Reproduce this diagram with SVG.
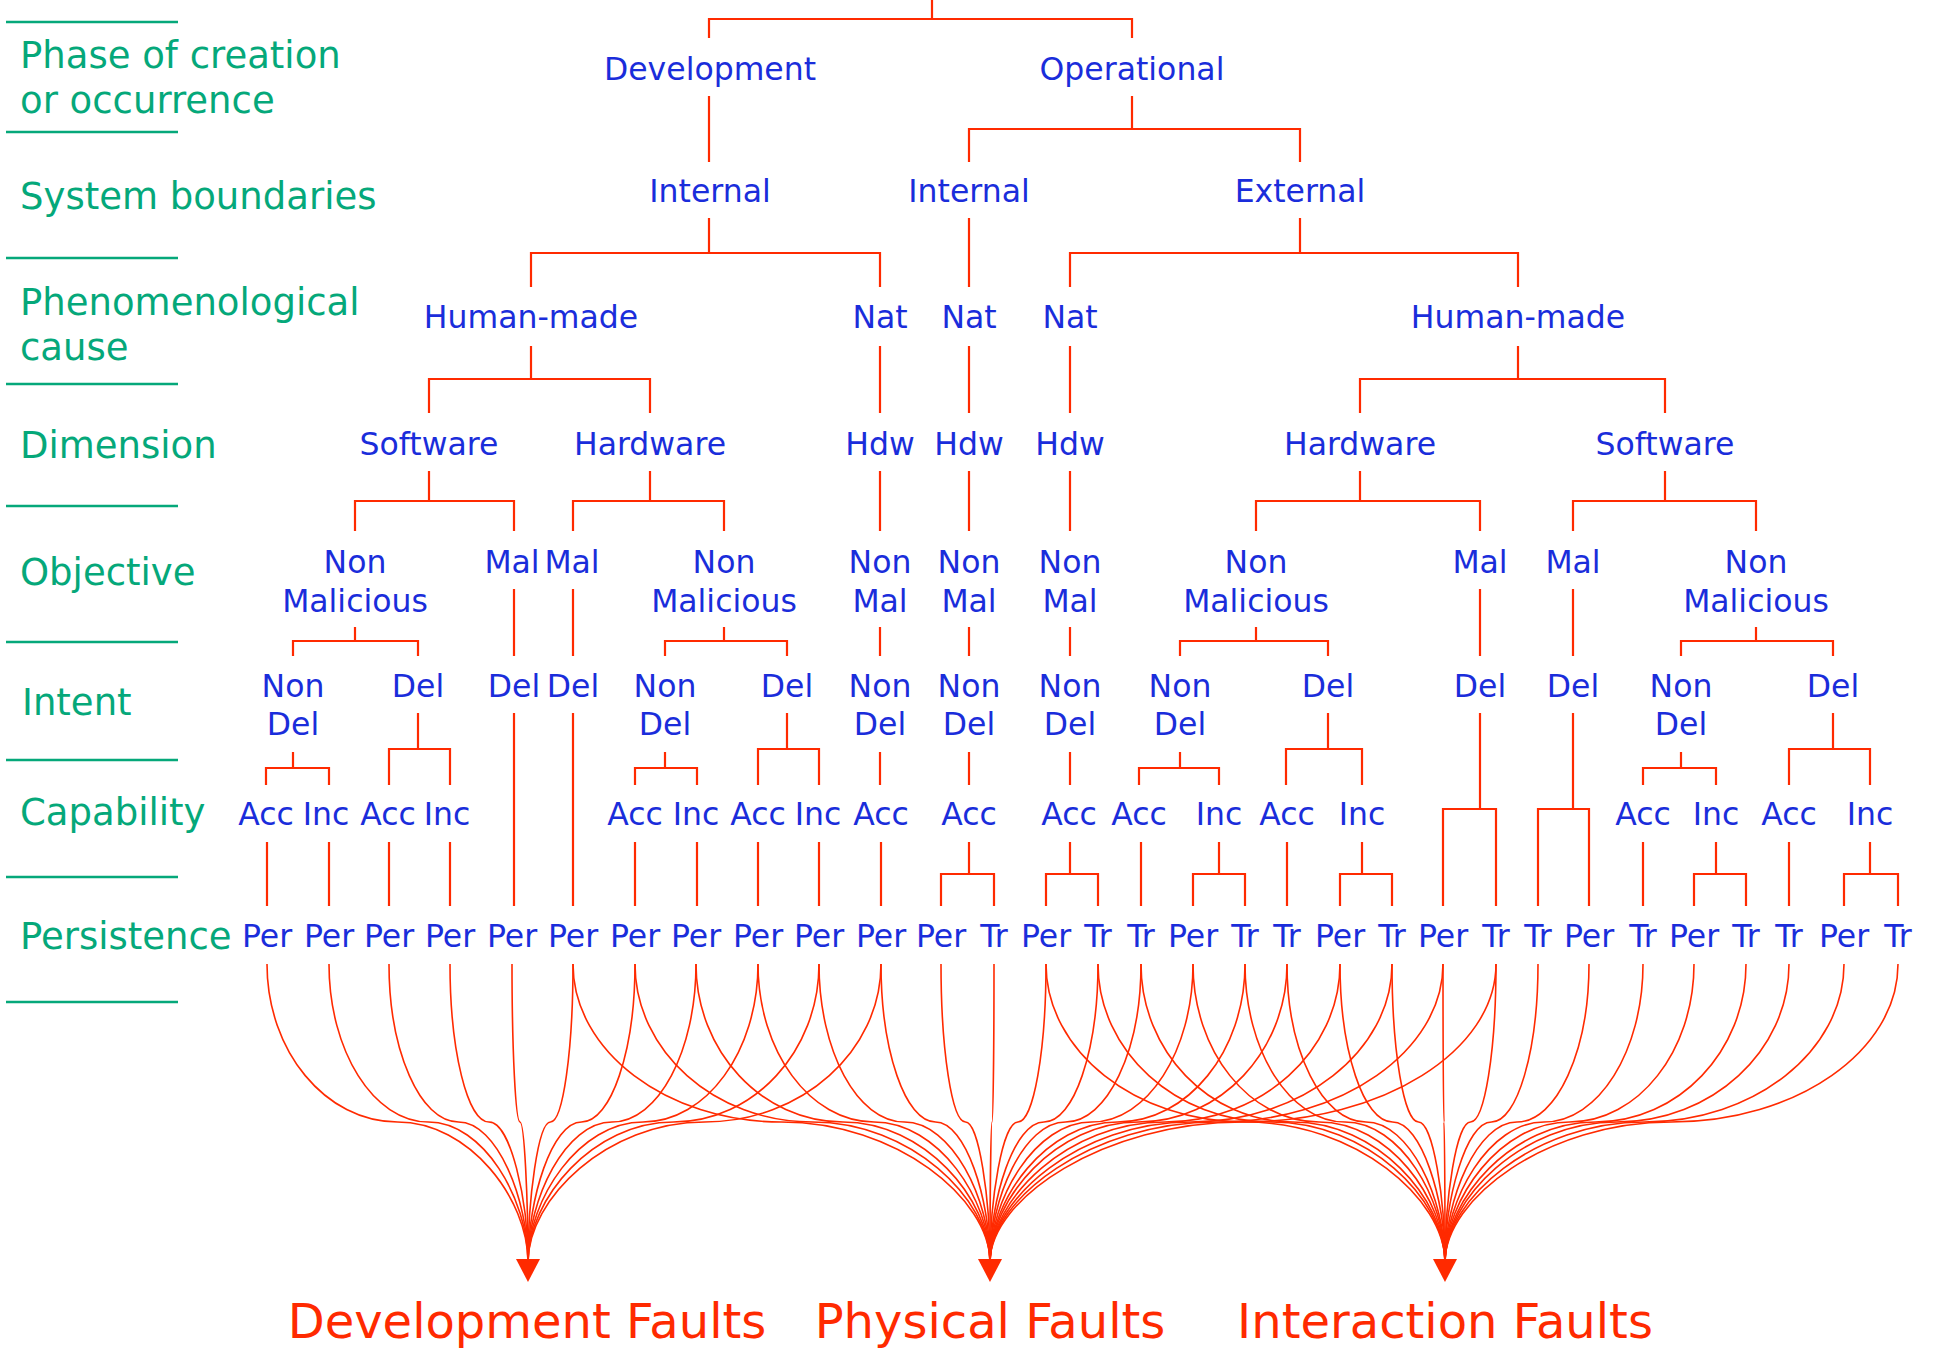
<svg xmlns="http://www.w3.org/2000/svg" xmlns:xlink="http://www.w3.org/1999/xlink" width="1933" height="1350" viewBox="0 0 1933 1350">
<style>
.lbl{font-family:"DejaVu Sans",sans-serif;font-size:37px;fill:#05a87a}
.n{font-family:"DejaVu Sans",sans-serif;font-size:31.5px;fill:#1a2ddb;text-anchor:middle}
.f{font-family:"DejaVu Sans",sans-serif;font-size:48px;fill:#ff2a00;text-anchor:middle}
.t{stroke:#ff2a00;stroke-width:2.2;fill:none}
.c{stroke:#ff2a00;stroke-width:1.6;fill:none}
.g{stroke:#05a87a;stroke-width:2.5}
</style>
<defs>
<path id="ah" d="M-12 -23 L12 -23 L0 0 Z" fill="#ff2a00"/>
</defs>
<rect width="1933" height="1350" fill="#ffffff"/>
<g id="legend">
<line class="g" x1="6" y1="22" x2="178" y2="22"/>
<line class="g" x1="6" y1="132" x2="178" y2="132"/>
<line class="g" x1="6" y1="258" x2="178" y2="258"/>
<line class="g" x1="6" y1="384" x2="178" y2="384"/>
<line class="g" x1="6" y1="506" x2="178" y2="506"/>
<line class="g" x1="6" y1="642" x2="178" y2="642"/>
<line class="g" x1="6" y1="760" x2="178" y2="760"/>
<line class="g" x1="6" y1="877" x2="178" y2="877"/>
<line class="g" x1="6" y1="1002" x2="178" y2="1002"/>
<text class="lbl" x="20" y="68">Phase of creation</text>
<text class="lbl" x="20" y="113">or occurrence</text>
<text class="lbl" x="20" y="209">System boundaries</text>
<text class="lbl" x="20" y="315">Phenomenological</text>
<text class="lbl" x="20" y="360">cause</text>
<text class="lbl" x="20" y="458">Dimension</text>
<text class="lbl" x="20" y="585">Objective</text>
<text class="lbl" x="22" y="715">Intent</text>
<text class="lbl" x="20" y="825">Capability</text>
<text class="lbl" x="20" y="949">Persistence</text>
</g>
<g id="connectors">
<path class="t" d="M932 0V19M709 38V19H1132V38"/>
<path class="t" d="M709 96V162M1132 96V129M969 162V129H1300V162"/>
<path class="t" d="M709 218V253M531 287V253H880V287M969 218V287M1300 218V253M1070 287V253H1518V287"/>
<path class="t" d="M531 346V379M429 413V379H650V413M880 346V413M969 346V413M1070 346V413M1518 346V379M1360 413V379H1665V413"/>
<path class="t" d="M429 471V501M355 531V501H514V531M650 471V501M573 531V501H724V531M880 471V531M969 471V531M1070 471V531M1360 471V501M1256 531V501H1480V531M1665 471V501M1573 531V501H1756V531"/>
<path class="t" d="M355 627V641M293 656V641H418V656M514 589V656M573 589V656M724 627V641M665 656V641H787V656M880 627V656M969 627V656M1070 627V656M1256 627V641M1180 656V641H1328V656M1480 589V656M1573 589V656M1756 627V641M1681 656V641H1833V656"/>
<path class="t" d="M293 752V768M266 785V768H329V785M418 713V749M389 785V749H450V785M514 713V906M573 713V906M665 752V768M635 785V768H697V785M787 713V749M758 785V749H819V785M880 752V785M969 752V785M1070 752V785M1180 752V768M1139 785V768H1219V785M1328 713V749M1286 785V749H1362V785M1480 713V809M1443 906V809H1496V906M1573 713V809M1538 906V809H1589V906M1681 752V768M1643 785V768H1716V785M1833 713V749M1789 785V749H1870V785"/>
<path class="t" d="M267 842V906M329 842V906M389 842V906M450 842V906M635 842V906M697 842V906M758 842V906M819 842V906M881 842V906M969 842V874M941 906V874H994V906M1070 842V874M1046 906V874H1098V906M1141 842V906M1219 842V874M1193 906V874H1245V906M1287 842V906M1362 842V874M1340 906V874H1392V906M1643 842V906M1716 842V874M1694 906V874H1746V906M1789 842V906M1870 842V874M1844 906V874H1898V906"/>
<g id="to-development">
<path class="c" d="M267 964C267 1051 325.5 1122 397.5 1122S528 1199 528 1262"/>
<path class="c" d="M329 964C329 1051 373.6 1122 428.5 1122S528 1199 528 1262"/>
<path class="c" d="M389 964C389 1051 420.1 1122 458.5 1122S528 1199 528 1262"/>
<path class="c" d="M450 964C450 1051 467.5 1122 489 1122S528 1199 528 1262"/>
<path class="c" d="M512 964C512 1051 515.6 1122 520 1122S528 1199 528 1262"/>
<path class="c" d="M573 964C573 1051 562.9 1122 550.5 1122S528 1199 528 1262"/>
<path class="c" d="M635 964C635 1051 611 1122 581.5 1122S528 1199 528 1262"/>
<path class="c" d="M696 964C696 1051 658.4 1122 612 1122S528 1199 528 1262"/>
<path class="c" d="M758 964C758 1051 706.5 1122 643 1122S528 1199 528 1262"/>
<path class="c" d="M819 964C819 1051 753.8 1122 673.5 1122S528 1199 528 1262"/>
<path class="c" d="M881 964C881 1051 801.9 1122 704.5 1122S528 1199 528 1262"/>
</g>
<g id="to-physical">
<path class="c" d="M573 964C573 1051 666.4 1122 781.5 1122S990 1199 990 1262"/>
<path class="c" d="M635 964C635 1051 714.5 1122 812.5 1122S990 1199 990 1262"/>
<path class="c" d="M696 964C696 1051 761.9 1122 843 1122S990 1199 990 1262"/>
<path class="c" d="M758 964C758 1051 810 1122 874 1122S990 1199 990 1262"/>
<path class="c" d="M819 964C819 1051 857.3 1122 904.5 1122S990 1199 990 1262"/>
<path class="c" d="M881 964C881 1051 905.4 1122 935.5 1122S990 1199 990 1262"/>
<path class="c" d="M941 964C941 1051 952 1122 965.5 1122S990 1199 990 1262"/>
<path class="c" d="M994 964C994 1051 993.1 1122 992 1122S990 1199 990 1262"/>
<path class="c" d="M1046 964C1046 1051 1033.5 1122 1018 1122S990 1199 990 1262"/>
<path class="c" d="M1098 964C1098 1051 1073.8 1122 1044 1122S990 1199 990 1262"/>
<path class="c" d="M1141 964C1141 1051 1107.2 1122 1065.5 1122S990 1199 990 1262"/>
<path class="c" d="M1193 964C1193 1051 1147.5 1122 1091.5 1122S990 1199 990 1262"/>
<path class="c" d="M1245 964C1245 1051 1187.9 1122 1117.5 1122S990 1199 990 1262"/>
<path class="c" d="M1287 964C1287 1051 1220.5 1122 1138.5 1122S990 1199 990 1262"/>
<path class="c" d="M1340 964C1340 1051 1261.6 1122 1165 1122S990 1199 990 1262"/>
<path class="c" d="M1392 964C1392 1051 1302 1122 1191 1122S990 1199 990 1262"/>
<path class="c" d="M1443 964C1443 1051 1341.5 1122 1216.5 1122S990 1199 990 1262"/>
<path class="c" d="M1496 964C1496 1051 1382.7 1122 1243 1122S990 1199 990 1262"/>
</g>
<g id="to-interaction">
<path class="c" d="M1046 964C1046 1051 1135.4 1122 1245.5 1122S1445 1199 1445 1262"/>
<path class="c" d="M1098 964C1098 1051 1175.7 1122 1271.5 1122S1445 1199 1445 1262"/>
<path class="c" d="M1141 964C1141 1051 1209.1 1122 1293 1122S1445 1199 1445 1262"/>
<path class="c" d="M1193 964C1193 1051 1249.4 1122 1319 1122S1445 1199 1445 1262"/>
<path class="c" d="M1245 964C1245 1051 1289.8 1122 1345 1122S1445 1199 1445 1262"/>
<path class="c" d="M1287 964C1287 1051 1322.4 1122 1366 1122S1445 1199 1445 1262"/>
<path class="c" d="M1340 964C1340 1051 1363.5 1122 1392.5 1122S1445 1199 1445 1262"/>
<path class="c" d="M1392 964C1392 1051 1403.9 1122 1418.5 1122S1445 1199 1445 1262"/>
<path class="c" d="M1443 964C1443 1051 1443.4 1122 1444 1122S1445 1199 1445 1262"/>
<path class="c" d="M1496 964C1496 1051 1484.6 1122 1470.5 1122S1445 1199 1445 1262"/>
<path class="c" d="M1538 964C1538 1051 1517.2 1122 1491.5 1122S1445 1199 1445 1262"/>
<path class="c" d="M1589 964C1589 1051 1556.7 1122 1517 1122S1445 1199 1445 1262"/>
<path class="c" d="M1643 964C1643 1051 1598.6 1122 1544 1122S1445 1199 1445 1262"/>
<path class="c" d="M1694 964C1694 1051 1638.2 1122 1569.5 1122S1445 1199 1445 1262"/>
<path class="c" d="M1746 964C1746 1051 1678.6 1122 1595.5 1122S1445 1199 1445 1262"/>
<path class="c" d="M1789 964C1789 1051 1711.9 1122 1617 1122S1445 1199 1445 1262"/>
<path class="c" d="M1844 964C1844 1051 1754.6 1122 1644.5 1122S1445 1199 1445 1262"/>
<path class="c" d="M1898 964C1898 1051 1796.5 1122 1671.5 1122S1445 1199 1445 1262"/>
</g>
<use xlink:href="#ah" x="528" y="1282"/>
<use xlink:href="#ah" x="990" y="1282"/>
<use xlink:href="#ah" x="1445" y="1282"/>
</g>
<g id="nodes">
<g id="n-development"><text class="n" x="710" y="80">Development</text></g>
<g id="n-operational"><text class="n" x="1132" y="80">Operational</text></g>
<g id="n-internal-dev"><text class="n" x="710" y="202">Internal</text></g>
<g id="n-internal-op"><text class="n" x="969" y="202">Internal</text></g>
<g id="n-external"><text class="n" x="1300" y="202">External</text></g>
<g id="n-hm1"><text class="n" x="531" y="328">Human-made</text></g>
<g id="n-nat1"><text class="n" x="880" y="328">Nat</text></g>
<g id="n-nat2"><text class="n" x="969" y="328">Nat</text></g>
<g id="n-nat3"><text class="n" x="1070" y="328">Nat</text></g>
<g id="n-hm2"><text class="n" x="1518" y="328">Human-made</text></g>
<g id="n-sw1"><text class="n" x="429" y="455">Software</text></g>
<g id="n-hw1"><text class="n" x="650" y="455">Hardware</text></g>
<g id="n-hdw1"><text class="n" x="880" y="455">Hdw</text></g>
<g id="n-hdw2"><text class="n" x="969" y="455">Hdw</text></g>
<g id="n-hdw3"><text class="n" x="1070" y="455">Hdw</text></g>
<g id="n-hw2"><text class="n" x="1360" y="455">Hardware</text></g>
<g id="n-sw2"><text class="n" x="1665" y="455">Software</text></g>
<g id="n-obj1"><text class="n" x="355" y="573">Non</text><text class="n" x="355" y="612">Malicious</text></g>
<g id="n-obj2"><text class="n" x="512" y="573">Mal</text></g>
<g id="n-obj3"><text class="n" x="572" y="573">Mal</text></g>
<g id="n-obj4"><text class="n" x="724" y="573">Non</text><text class="n" x="724" y="612">Malicious</text></g>
<g id="n-obj5"><text class="n" x="880" y="573">Non</text><text class="n" x="880" y="612">Mal</text></g>
<g id="n-obj6"><text class="n" x="969" y="573">Non</text><text class="n" x="969" y="612">Mal</text></g>
<g id="n-obj7"><text class="n" x="1070" y="573">Non</text><text class="n" x="1070" y="612">Mal</text></g>
<g id="n-obj8"><text class="n" x="1256" y="573">Non</text><text class="n" x="1256" y="612">Malicious</text></g>
<g id="n-obj9"><text class="n" x="1480" y="573">Mal</text></g>
<g id="n-obj10"><text class="n" x="1573" y="573">Mal</text></g>
<g id="n-obj11"><text class="n" x="1756" y="573">Non</text><text class="n" x="1756" y="612">Malicious</text></g>
<g id="n-int1"><text class="n" x="293" y="697">Non</text><text class="n" x="293" y="735">Del</text></g>
<g id="n-int2"><text class="n" x="418" y="697">Del</text></g>
<g id="n-int3"><text class="n" x="514" y="697">Del</text></g>
<g id="n-int4"><text class="n" x="573" y="697">Del</text></g>
<g id="n-int5"><text class="n" x="665" y="697">Non</text><text class="n" x="665" y="735">Del</text></g>
<g id="n-int6"><text class="n" x="787" y="697">Del</text></g>
<g id="n-int7"><text class="n" x="880" y="697">Non</text><text class="n" x="880" y="735">Del</text></g>
<g id="n-int8"><text class="n" x="969" y="697">Non</text><text class="n" x="969" y="735">Del</text></g>
<g id="n-int9"><text class="n" x="1070" y="697">Non</text><text class="n" x="1070" y="735">Del</text></g>
<g id="n-int10"><text class="n" x="1180" y="697">Non</text><text class="n" x="1180" y="735">Del</text></g>
<g id="n-int11"><text class="n" x="1328" y="697">Del</text></g>
<g id="n-int12"><text class="n" x="1480" y="697">Del</text></g>
<g id="n-int13"><text class="n" x="1573" y="697">Del</text></g>
<g id="n-int14"><text class="n" x="1681" y="697">Non</text><text class="n" x="1681" y="735">Del</text></g>
<g id="n-int15"><text class="n" x="1833" y="697">Del</text></g>
<g id="n-cap1"><text class="n" x="266" y="825">Acc</text></g>
<g id="n-cap2"><text class="n" x="326" y="825">Inc</text></g>
<g id="n-cap3"><text class="n" x="388" y="825">Acc</text></g>
<g id="n-cap4"><text class="n" x="447" y="825">Inc</text></g>
<g id="n-cap5"><text class="n" x="635" y="825">Acc</text></g>
<g id="n-cap6"><text class="n" x="696" y="825">Inc</text></g>
<g id="n-cap7"><text class="n" x="758" y="825">Acc</text></g>
<g id="n-cap8"><text class="n" x="818" y="825">Inc</text></g>
<g id="n-cap9"><text class="n" x="881" y="825">Acc</text></g>
<g id="n-cap10"><text class="n" x="969" y="825">Acc</text></g>
<g id="n-cap11"><text class="n" x="1069" y="825">Acc</text></g>
<g id="n-cap12"><text class="n" x="1139" y="825">Acc</text></g>
<g id="n-cap13"><text class="n" x="1219" y="825">Inc</text></g>
<g id="n-cap14"><text class="n" x="1287" y="825">Acc</text></g>
<g id="n-cap15"><text class="n" x="1362" y="825">Inc</text></g>
<g id="n-cap16"><text class="n" x="1643" y="825">Acc</text></g>
<g id="n-cap17"><text class="n" x="1716" y="825">Inc</text></g>
<g id="n-cap18"><text class="n" x="1789" y="825">Acc</text></g>
<g id="n-cap19"><text class="n" x="1870" y="825">Inc</text></g>
<g id="n-per1"><text class="n" x="267" y="947">Per</text></g>
<g id="n-per2"><text class="n" x="329" y="947">Per</text></g>
<g id="n-per3"><text class="n" x="389" y="947">Per</text></g>
<g id="n-per4"><text class="n" x="450" y="947">Per</text></g>
<g id="n-per5"><text class="n" x="512" y="947">Per</text></g>
<g id="n-per6"><text class="n" x="573" y="947">Per</text></g>
<g id="n-per7"><text class="n" x="635" y="947">Per</text></g>
<g id="n-per8"><text class="n" x="696" y="947">Per</text></g>
<g id="n-per9"><text class="n" x="758" y="947">Per</text></g>
<g id="n-per10"><text class="n" x="819" y="947">Per</text></g>
<g id="n-per11"><text class="n" x="881" y="947">Per</text></g>
<g id="n-per12"><text class="n" x="941" y="947">Per</text></g>
<g id="n-per13"><text class="n" x="994" y="947">Tr</text></g>
<g id="n-per14"><text class="n" x="1046" y="947">Per</text></g>
<g id="n-per15"><text class="n" x="1098" y="947">Tr</text></g>
<g id="n-per16"><text class="n" x="1141" y="947">Tr</text></g>
<g id="n-per17"><text class="n" x="1193" y="947">Per</text></g>
<g id="n-per18"><text class="n" x="1245" y="947">Tr</text></g>
<g id="n-per19"><text class="n" x="1287" y="947">Tr</text></g>
<g id="n-per20"><text class="n" x="1340" y="947">Per</text></g>
<g id="n-per21"><text class="n" x="1392" y="947">Tr</text></g>
<g id="n-per22"><text class="n" x="1443" y="947">Per</text></g>
<g id="n-per23"><text class="n" x="1496" y="947">Tr</text></g>
<g id="n-per24"><text class="n" x="1538" y="947">Tr</text></g>
<g id="n-per25"><text class="n" x="1589" y="947">Per</text></g>
<g id="n-per26"><text class="n" x="1643" y="947">Tr</text></g>
<g id="n-per27"><text class="n" x="1694" y="947">Per</text></g>
<g id="n-per28"><text class="n" x="1746" y="947">Tr</text></g>
<g id="n-per29"><text class="n" x="1789" y="947">Tr</text></g>
<g id="n-per30"><text class="n" x="1844" y="947">Per</text></g>
<g id="n-per31"><text class="n" x="1898" y="947">Tr</text></g>
<g id="n-devfaults"><text class="f" x="527" y="1338">Development Faults</text></g>
<g id="n-physfaults"><text class="f" x="990" y="1338">Physical Faults</text></g>
<g id="n-intfaults"><text class="f" x="1445" y="1338">Interaction Faults</text></g>
</g>
</svg>
